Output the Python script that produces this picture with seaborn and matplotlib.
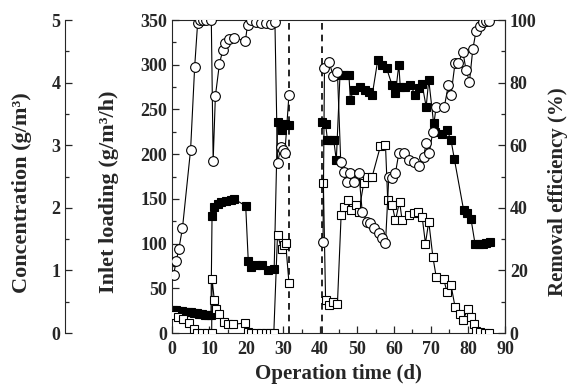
import numpy as np
import pandas as pd
import matplotlib
matplotlib.use('Agg')
import matplotlib.pyplot as plt
import seaborn as sb
from matplotlib.ticker import MultipleLocator

# inlet loading (g/m3/h), filled squares
load_day1 = [0.2, 1.0, 1.8, 2.6, 3.4, 4.2, 5.0, 5.8, 6.6, 7.4, 8.2, 9.0, 9.8, 10.5,
             10.8, 11.4, 12.3, 13.2, 14.6, 15.9, 16.8, 19.9, 20.6, 21.3, 22.6, 24.4,
             25.8, 27.6, 28.5, 29.8, 30.5, 31.6]
load_val1 = [26, 25.5, 25, 24.5, 24, 23.5, 23, 22.5, 22, 21.5, 21, 20.5, 20, 20,
             131, 141, 144, 147, 148, 149, 150, 142, 80, 74, 76, 76,
             70, 72, 236, 227, 234, 233]
load_day2 = [40.6, 41.5, 42.0, 42.9, 43.7, 44.4, 45.4, 46.5, 47.8, 48.2, 49.1, 50.8,
             52.1, 53.2, 54.1, 55.6, 56.8, 58.0, 59.5, 60.4, 61.3, 61.7, 62.9, 64.4,
             65.8, 66.7, 67.6, 68.7, 69.4, 70.7, 71.2, 73.0, 74.3, 75.4, 76.3, 78.8,
             79.7, 80.8, 81.9, 83.0, 84.0, 85.0, 86.0]
load_val2 = [236, 234, 216, 216, 216, 193, 289, 288, 289, 261, 272, 275,
             272, 270, 266, 305, 300, 296, 277, 268, 300, 275, 275, 277,
             266, 274, 278, 253, 283, 235, 225, 223, 227, 216, 195, 138,
             134, 128, 100, 99, 99, 101, 102]

# outlet concentration (g/m3), open squares
conc_day1 = [0.5, 1.5, 2.9, 4.7, 6.0, 6.8, 8.2, 9.5, 10.7, 10.8, 11.4, 12.0, 12.7,
             14.1, 15.2, 16.6, 19.8, 20.4, 21.3, 22.6, 24.0, 25.3, 26.5, 27.5,
             28.5, 29.6, 30.3, 30.7, 31.6]
conc_val1 = [0.29, 0.25, 0.22, 0.16, 0.07, 0, 0, 0, 0, 0.87, 0.53, 0.39, 0.31,
             0.18, 0.15, 0.14, 0.16, 0.02, 0, 0, 0, 0, 0, 0,
             1.57, 1.34, 1.40, 1.44, 0.80]
conc_day2 = [40.9, 41.5, 42.4, 43.6, 44.7, 45.7, 46.4, 47.5, 48.4, 49.6, 50.5, 51.8,
             52.7, 54.1, 56.3, 57.7, 58.3, 59.5, 60.4, 61.5, 62.2, 64.0, 65.3, 66.4,
             67.6, 68.5, 69.4, 70.5, 71.4, 73.4, 74.3, 75.4, 76.5, 77.9, 78.6, 80.1,
             80.8, 81.5, 82.3, 83.2, 84.6, 85.6]
conc_val2 = [2.40, 0.53, 0.45, 0.50, 0.46, 1.88, 2.02, 2.12, 1.96, 2.04, 1.94, 2.39,
             2.50, 2.50, 2.98, 3.00, 2.12, 2.04, 1.80, 2.10, 1.80, 1.88, 1.91, 1.94,
             1.86, 1.43, 1.78, 1.22, 0.90, 0.87, 0.66, 0.77, 0.42, 0.31, 0.21, 0.39,
             0.26, 0.15, 0.04, 0.01, 0, 0]

# removal efficiency (%), open circles
eff_day1 = [0.4, 1.1, 1.8, 2.8, 5.0, 6.1, 6.9, 7.5, 8.4, 9.3, 10.6, 11.1, 11.7, 12.8,
            13.7, 14.4, 15.3, 16.8, 19.8, 20.4, 21.3, 22.6, 24.0, 25.3, 26.7, 27.8,
            28.5, 29.4, 30.0, 30.5, 31.6]
eff_val1 = [18.5, 23, 26.7, 33.5, 58.6, 85, 99, 100, 100, 100, 100, 55, 75.7, 86,
            90.4, 92.5, 94, 94.3, 93.3, 98.4, 100, 99.5, 99, 99, 98.8, 99.5,
            54.2, 59.5, 58.5, 57.6, 76.2]
eff_day2 = [40.8, 41.2, 42.4, 43.6, 44.7, 45.6, 46.4, 47.4, 48.2, 49.1, 50.5, 51.4,
            52.7, 53.6, 54.5, 55.9, 56.8, 57.7, 58.6, 59.5, 60.4, 61.3, 62.6, 64.0,
            65.3, 66.7, 68.0, 68.7, 69.5, 70.5, 71.4, 73.6, 74.7, 75.4, 76.5, 77.4,
            78.6, 79.5, 80.4, 81.3, 82.2, 83.3, 84.1, 84.9, 85.6]
eff_val2 = [29.2, 84.6, 86.7, 82.1, 83.5, 54.7, 51.5, 48.3, 51, 48.3, 51.2, 38.8,
            35.6, 35, 33.4, 31.9, 30.3, 28.7, 50, 49.4, 51.2, 57.4, 57.6, 55.3,
            54.7, 53.4, 56.3, 60.6, 57.4, 64.3, 72.3, 72.3, 79.2, 76, 86.2, 86.2,
            89.9, 84, 80.3, 90.6, 96.6, 98, 99.3, 99.6, 99.6]

switch_days = [31.6, 40.6]


def phases(d1, v1, d2, v2):
    return pd.DataFrame({'day': d1 + d2, 'val': v1 + v2,
                         'phase': [1] * len(d1) + [2] * len(d2)})


load_df = phases(load_day1, load_val1, load_day2, load_val2)
conc_df = phases(conc_day1, conc_val1, conc_day2, conc_val2)
eff_df = phases(eff_day1, eff_val1, eff_day2, eff_val2)

sb.set_style('ticks')
plt.rcParams['font.family'] = ['Liberation Serif', 'DejaVu Serif']
plt.rcParams['font.weight'] = 'bold'
plt.rcParams['axes.labelweight'] = 'bold'
plt.rcParams['xtick.direction'] = 'in'
plt.rcParams['ytick.direction'] = 'in'

fig = plt.figure(figsize=(5.68, 3.85), dpi=100)
ax = fig.add_axes([0.303, 0.135, 0.586, 0.813])

line_kw = dict(estimator=None, units='phase', color='black', lw=0.8,
               legend=False, sort=False)

sb.lineplot(data=load_df, x='day', y='val', ax=ax, marker='s', markersize=5.5,
            markerfacecolor='black', markeredgecolor='black', markeredgewidth=0.8,
            **line_kw)

ax_c = ax.twinx()
sb.lineplot(data=conc_df, x='day', y='val', ax=ax_c, marker='s', markersize=5.5,
            markerfacecolor='white', markeredgecolor='black', markeredgewidth=0.8,
            **line_kw)

ax_r = ax.twinx()
sb.lineplot(data=eff_df, x='day', y='val', ax=ax_r, marker='o', markersize=7,
            markerfacecolor='white', markeredgecolor='black', markeredgewidth=0.8,
            **line_kw)

for d in switch_days:
    ax.axvline(d, color='black', ls='--', lw=1.2, dashes=(4, 3))

ax.set_xlim(0, 90)
ax.set_ylim(0, 350)
ax.xaxis.set_major_locator(MultipleLocator(10))
ax.xaxis.set_minor_locator(MultipleLocator(5))
ax.yaxis.set_major_locator(MultipleLocator(50))
ax.yaxis.set_minor_locator(MultipleLocator(25))

ax_c.set_ylim(0, 5)
ax_c.yaxis.set_major_locator(MultipleLocator(1))
ax_c.yaxis.set_minor_locator(MultipleLocator(0.5))
for s in ['right', 'top', 'bottom']:
    ax_c.spines[s].set_visible(False)
ax_c.spines['left'].set_visible(True)
ax_c.spines['left'].set_position(('axes', -0.321))
ax_c.yaxis.set_ticks_position('left')
ax_c.yaxis.set_label_position('left')

ax_r.set_ylim(0, 100)
ax_r.yaxis.set_major_locator(MultipleLocator(20))
ax_r.yaxis.set_minor_locator(MultipleLocator(10))
for s in ['left', 'top', 'bottom']:
    ax_r.spines[s].set_visible(False)

for a in [ax, ax_c, ax_r]:
    a.tick_params(which='major', length=5, width=0.9, labelsize=13)
    a.tick_params(which='minor', length=3, width=0.9)
    for lab in a.get_xticklabels() + a.get_yticklabels():
        lab.set_fontweight('bold')
ax.tick_params(axis='y', which='both', right=False)
ax.tick_params(axis='x', which='both', top=False, pad=6)

ax.set_xlabel('Operation time (d)', fontsize=15)
ax.xaxis.set_label_coords(0.5, -0.13)
ax.set_ylabel('Inlet loading (g/m³/h)', fontsize=16)
ax.yaxis.set_label_coords(-0.189, 0.45)
ax_c.set_ylabel('Concentration (g/m³)', fontsize=16)
ax_c.yaxis.set_label_coords(-0.450, 0.45)
ax_r.set_ylabel('Removal efficiency (%)', fontsize=15)
ax_r.yaxis.set_label_coords(1.160, 0.45)
for a in [ax, ax_c, ax_r]:
    a.yaxis.label.set_verticalalignment('center')
ax.xaxis.label.set_verticalalignment('center')

fig.savefig('out.png', dpi=100)
